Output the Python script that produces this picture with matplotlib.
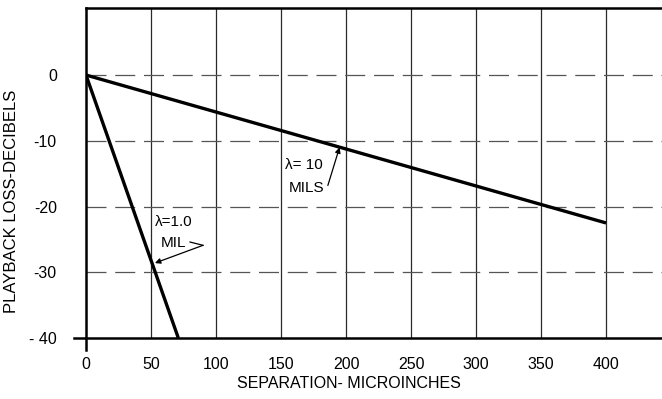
import matplotlib.pyplot as plt

# separation (microinches) vs playback loss (dB)
sep_10mil = [0, 400]
loss_10mil = [0, -22.5]
sep_1mil = [0, 71]
loss_1mil = [0, -40]

x_ticks = [0, 50, 100, 150, 200, 250, 300, 350, 400]
y_ticks = [0, -10, -20, -30, -40]

plt.rcParams['font.family'] = ['Liberation Sans', 'DejaVu Sans']

fig = plt.figure(figsize=(6.62, 3.99), dpi=100)
ax = fig.add_axes([86 / 662, 1 - 338 / 399, 1 - 86 / 662, (338 - 8) / 399])
ax.set_xlim(0, 443)
ax.set_ylim(-40, 10.2)

# grid: solid verticals, dashed horizontals
for xv in x_ticks[1:]:
    ax.axvline(xv, color='#2a2a2a', lw=0.9, zorder=1)
for yv in y_ticks[:-1]:
    ax.axhline(yv, color='#555555', lw=0.9, linestyle=(0, (16, 7)), zorder=1)

ax.plot(sep_10mil, loss_10mil, color='black', lw=2.4, solid_capstyle='butt', zorder=3)
ax.plot(sep_1mil, loss_1mil, color='black', lw=2.4, solid_capstyle='butt', zorder=3)

for s in ['left', 'bottom', 'top']:
    ax.spines[s].set_linewidth(1.8)
ax.spines['right'].set_visible(False)
ax.spines['left'].set_bounds(-41.8, 10.2)
ax.spines['bottom'].set_bounds(-9, 443)

ax.set_xticks(x_ticks)
ax.set_yticks(y_ticks)
ax.set_xticklabels([str(v) for v in x_ticks])
ax.set_yticklabels(['- 40' if v == -40 else str(v) for v in y_ticks])
ax.tick_params(length=0, labelsize=11.5)
ax.tick_params(axis='x', pad=14)
ax.tick_params(axis='y', pad=21)

ax.set_xlabel('SEPARATION- MICROINCHES', fontsize=11.5)
ax.xaxis.set_label_coords(202 / 443, -0.115)
ax.set_ylabel('PLAYBACK LOSS-DECIBELS', fontsize=12)
ax.yaxis.set_label_coords(-0.117, 0.415)

# lambda = 10 mils label and arrow
ax.annotate('', xy=(195, -11.0), xytext=(186, -16.8),
            arrowprops=dict(arrowstyle='-|>', color='black', lw=0.9,
                            mutation_scale=8, shrinkA=0, shrinkB=0))
ax.text(153, -13.7, 'λ= 10', ha='left', va='center', fontsize=11)
ax.text(156, -17.2, 'MILS', ha='left', va='center', fontsize=11)

# lambda = 1.0 mil label and bent arrow
ax.plot([80, 90], [-25.4, -25.9], color='black', lw=0.9)
ax.annotate('', xy=(53, -28.6), xytext=(90, -25.9),
            arrowprops=dict(arrowstyle='-|>', color='black', lw=0.9,
                            mutation_scale=8, shrinkA=0, shrinkB=0))
ax.text(53, -22.4, 'λ=1.0', ha='left', va='center', fontsize=11)
ax.text(57.5, -25.5, 'MIL', ha='left', va='center', fontsize=11)

fig.savefig('out.png', dpi=100)
